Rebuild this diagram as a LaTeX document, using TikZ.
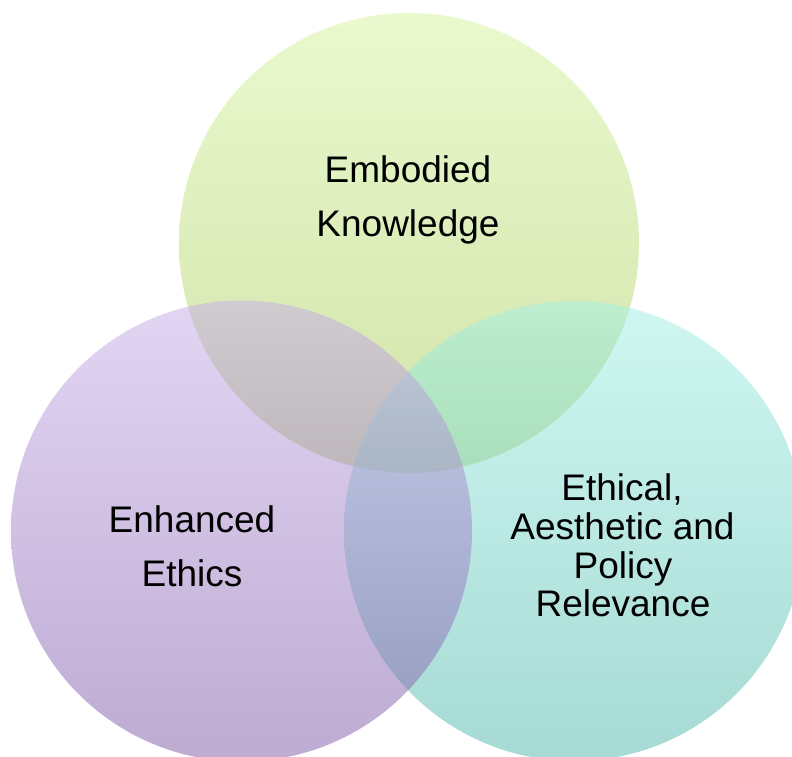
\documentclass[tikz,border=0pt]{standalone}
\usepackage{fontspec}
\setmainfont{Liberation Sans}
\definecolor{gTop}{RGB}{213,245,157}
\definecolor{gBot}{RGB}{165,200,85}
\definecolor{pTop}{RGB}{199,173,233}
\definecolor{pBot}{RGB}{125,88,167}
\definecolor{cTop}{RGB}{161,241,229}
\definecolor{cBot}{RGB}{78,182,170}
\begin{document}
\begin{tikzpicture}[x=1pt,y=1pt,
  venn/.style={opacity=0.5},
  lbl/.style={anchor=base,inner sep=0pt,font=\fontsize{37}{44}\selectfont}]
\useasboundingbox (0,0) rectangle (792,756);
\fill[white] (0,0) rectangle (792,756);
\shade[venn,top color=gTop,bottom color=gBot] (409,513) circle (230);
\shade[venn,top color=cTop,bottom color=cBot] (574,225) circle (230);
\shade[venn,top color=pTop,bottom color=pBot] (241.5,225) circle (230.5);
\node[lbl] (k1) at (408,573) {Embodied};
\node[lbl] (k2) at (408,519) {Knowledge};
\node[lbl] (e1) at (192,224) {Enhanced};
\node[lbl] (e2) at (192,170) {Ethics};
\node[lbl] (r1) at (622,255.3) {Ethical,};
\node[lbl] (r2) at (622.5,216.7) {Aesthetic and};
\node[lbl] (r3) at (623,177.7) {Policy};
\node[lbl] (r4) at (623,140) {Relevance};
\end{tikzpicture}
\end{document}
